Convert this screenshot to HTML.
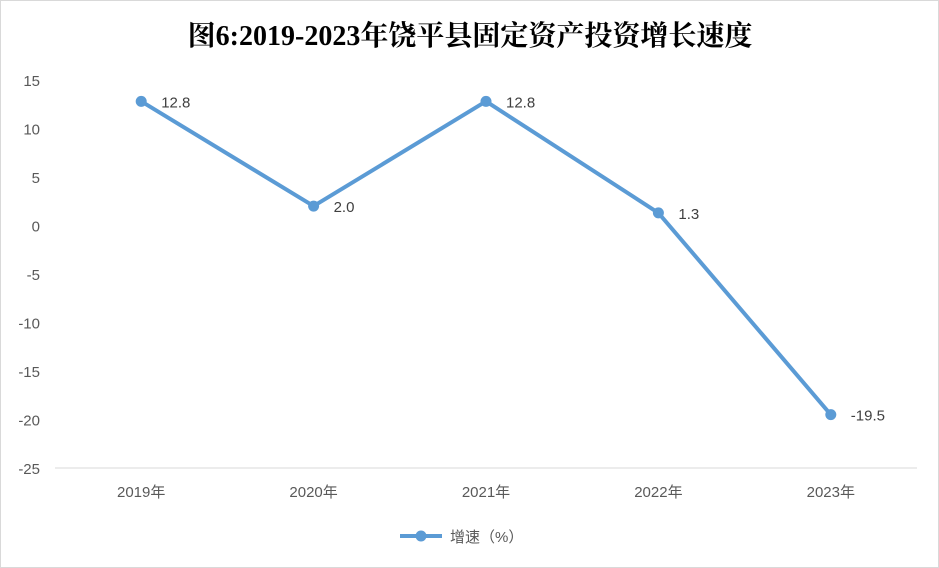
<!DOCTYPE html>
<html><head><meta charset="utf-8"><style>
body{margin:0;background:#fff;}
svg{display:block;font-family:"Liberation Sans","Noto Sans CJK SC",sans-serif;}
</style></head><body>
<svg id="chart" width="939" height="568" xmlns="http://www.w3.org/2000/svg">
<rect x="0.5" y="0.5" width="938" height="567" fill="#fff" stroke="#d9d9d9"/>
<text x="470" y="45" text-anchor="middle" font-family="'Liberation Serif','Noto Serif CJK SC',serif" font-weight="bold" font-size="28" fill="#000">图6:2019-2023年饶平县固定资产投资增长速度</text>
<g id="yaxis"></g>
<g id="xaxis"></g>
<g id="series"></g>
<g>
<line x1="400" y1="536" x2="442" y2="536" stroke="#5b9bd5" stroke-width="4"/>
<circle cx="421" cy="536" r="5.5" fill="#5b9bd5"/>
<text x="450" y="542" font-size="15" fill="#595959">增速（%）</text>
</g>
</svg>
<script>
const categories=["2019年","2020年","2021年","2022年","2023年"];
const values=[12.8,2.0,12.8,1.3,-19.5];
const valueLabels=["12.8","2.0","12.8","1.3","-19.5"];
const yTicks=[15,10,5,0,-5,-10,-15,-20,-25];
const NS="http://www.w3.org/2000/svg";
const plotLeft=55,plotRight=917,yMax=15,yMin=-25,plotTop=80,plotBottom=468;
function yScale(v){return plotTop+(yMax-v)/(yMax-yMin)*(plotBottom-plotTop);}
function xScale(i){return plotLeft+(i+0.5)*(plotRight-plotLeft)/categories.length;}
function mk(t,a,p){const e=document.createElementNS(NS,t);for(const k in a)e.setAttribute(k,a[k]);p.appendChild(e);return e;}
const ya=document.getElementById('yaxis'),xa=document.getElementById('xaxis'),ser=document.getElementById('series');
yTicks.forEach(v=>{const t=mk('text',{x:40,y:yScale(v)+6,'text-anchor':'end','font-size':15,fill:'#595959'},ya);t.textContent=v;

});
const ax=mk('line',{x1:plotLeft,x2:plotRight,y1:plotBottom,y2:plotBottom,stroke:'#d9d9d9','stroke-width':1},xa);


categories.forEach((c,i)=>{const t=mk('text',{x:xScale(i),y:497,'text-anchor':'middle','font-size':15,fill:'#595959'},xa);t.textContent=c;

});
const pl=mk('polyline',{points:values.map((v,i)=>xScale(i)+','+yScale(v)).join(' '),fill:'none',stroke:'#5b9bd5','stroke-width':4,'stroke-linejoin':'round'},ser);


values.forEach((v,i)=>{const c=mk('circle',{cx:xScale(i),cy:yScale(v),r:5.5,fill:'#5b9bd5'},ser);


const t=mk('text',{x:xScale(i)+20,y:yScale(v)+6,'font-size':15,fill:'#404040'},ser);t.textContent=valueLabels[i];

});
</script>
</body></html>
